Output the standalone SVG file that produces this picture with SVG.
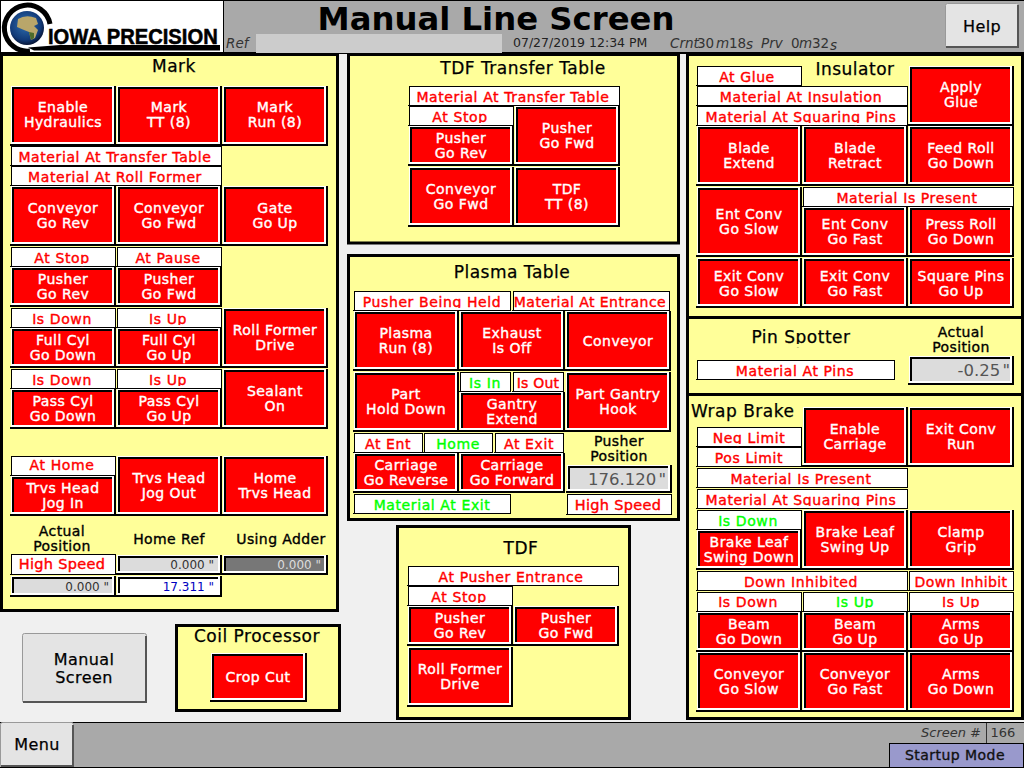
<svg xmlns="http://www.w3.org/2000/svg" width="1024" height="768" viewBox="0 0 1024 768">
<style>
text{font-family:"DejaVu Sans","Liberation Sans",sans-serif}
.k{fill:#000}.w{fill:#fff}
.panel{fill:#ffff99;stroke:#000;stroke-width:3}
.t{font-size:17px;fill:#000;text-anchor:middle;stroke:#000;stroke-width:.25;letter-spacing:.5px}
.h{font-size:14px;fill:#000;text-anchor:middle;stroke:#000;stroke-width:.35;letter-spacing:.4px}
.btn{fill:#f00}
.btn text{font-size:14px;fill:#fff;stroke:#fff;stroke-width:.4;text-anchor:middle;letter-spacing:.45px}
.lab text{font-size:14px;fill:#f00;stroke:#f00;stroke-width:.4;text-anchor:middle;letter-spacing:.6px}
.lab text.g{fill:#0f0;stroke:#0f0}
.lab text.big{font-size:14.5px;letter-spacing:.3px}
.dsp{fill:#dcdcdc}
.dsp text{font-size:12px;fill:#333;text-anchor:end}
.dsp text.lg{font-size:16.500px;fill:#555;word-spacing:-3px}
.hmi{fill:#e4e4e4;stroke:#999;stroke-width:1}
.sh{fill:none;stroke:#555;stroke-width:2}
.hb{font-size:16px;fill:#000;text-anchor:middle;stroke:#000;stroke-width:.25;letter-spacing:.4px}
.st{font-size:13.500px;fill:#333}
.it{font-style:italic}
</style>
<defs>
<radialGradient id="globe" cx="0.45" cy="0.4" r="0.65"><stop offset="0" stop-color="#2f6fb0"/><stop offset="0.7" stop-color="#123a78"/><stop offset="1" stop-color="#050a20"/></radialGradient>
<g id="b60"><rect class="k" y="58" width="106" height="2"/><rect class="k" x="104" width="2" height="60"/><rect class="w" x="1" width="103" height="58"/><rect class="k" x="2" y="1" width="100" height="55"/><rect x="4" y="3" width="98" height="53"/></g>
<g id="b40"><rect class="k" y="38" width="106" height="2"/><rect class="k" x="104" width="2" height="40"/><rect class="w" x="1" width="103" height="38"/><rect class="k" x="2" y="1" width="100" height="35"/><rect x="4" y="3" width="98" height="33"/></g>
<g id="b50"><rect class="k" y="48" width="106" height="2"/><rect class="k" x="104" width="2" height="50"/><rect class="w" x="1" width="103" height="48"/><rect class="k" x="2" y="1" width="100" height="45"/><rect x="4" y="3" width="98" height="43"/></g>
<g id="b70"><rect class="k" y="68" width="106" height="2"/><rect class="k" x="104" width="2" height="70"/><rect class="w" x="1" width="103" height="68"/><rect class="k" x="2" y="1" width="100" height="65"/><rect x="4" y="3" width="98" height="63"/></g>
<g id="b97"><rect class="k" y="47" width="97" height="2"/><rect class="k" x="95" width="2" height="49"/><rect class="w" x="1" width="94" height="47"/><rect class="k" x="2" y="1" width="91" height="44"/><rect x="4" y="3" width="89" height="42"/></g>
<g id="b20"><rect class="k" y="18" width="106" height="2"/><rect class="k" x="104" width="2" height="20"/><rect class="w" x="1" width="103" height="18"/><rect class="k" x="2" y="1" width="100" height="15"/><rect x="4" y="3" width="98" height="13"/></g>
<g id="b21"><rect class="k" y="19" width="106" height="2"/><rect class="k" x="104" width="2" height="21"/><rect class="w" x="1" width="103" height="19"/><rect class="k" x="2" y="1" width="100" height="16"/><rect x="4" y="3" width="98" height="14"/></g>
<g id="b28"><rect class="k" y="26" width="106" height="2"/><rect class="k" x="104" width="2" height="28"/><rect class="w" x="1" width="103" height="26"/><rect class="k" x="2" y="1" width="100" height="23"/><rect x="4" y="3" width="98" height="21"/></g>
<g id="b29"><rect class="k" y="27" width="106" height="2"/><rect class="k" x="104" width="2" height="29"/><rect class="w" x="1" width="103" height="27"/><rect class="k" x="2" y="1" width="100" height="24"/><rect x="4" y="3" width="98" height="22"/></g>
<g id="l106"><rect class="k" x="1" width="105" height="20"/><rect class="k" y="19" width="106" height="1"/><rect class="w" x="2" y="1" width="103" height="18"/></g>
<g id="l106t"><rect class="k" x="1" width="105" height="21"/><rect class="k" y="20" width="106" height="1"/><rect class="w" x="2" y="1" width="103" height="19"/></g>
<g id="l212"><rect class="k" x="1" width="211" height="20"/><rect class="k" y="19" width="212" height="1"/><rect class="w" x="2" y="1" width="209" height="18"/></g>
<g id="l199"><rect class="k" x="1" width="198" height="20"/><rect class="k" y="19" width="199" height="1"/><rect class="w" x="2" y="1" width="196" height="18"/></g>
<g id="l158"><rect class="k" x="1" width="157" height="20"/><rect class="k" y="19" width="158" height="1"/><rect class="w" x="2" y="1" width="155" height="18"/></g>
<g id="l70"><rect class="k" x="1" width="69" height="20"/><rect class="k" y="19" width="70" height="1"/><rect class="w" x="2" y="1" width="67" height="18"/></g>
<g id="l52"><rect class="k" x="1" width="51" height="20"/><rect class="k" y="19" width="52" height="1"/><rect class="w" x="2" y="1" width="49" height="18"/></g>
</defs>

<rect id="background" width="1024" height="768" fill="#f0f0f0"/>

<g id="header">
<rect width="1024" height="53" fill="#a9a9a9"/>
<rect y="0" width="1024" height="1" fill="#000"/>
<rect y="52" width="1024" height="2" fill="#000"/>
<rect x="256" y="34" width="246" height="19" fill="#cccccc"/>
<text x="226" y="48" class="st it">Ref</text>
<text x="496" y="30" font-size="32.300" font-weight="700" text-anchor="middle" fill="#000">Manual Line Screen</text>
<text x="513" y="47" font-size="12.500" fill="#222">07/27/2019 12:34 PM</text>
<text class="st" y="48"><tspan class="it" x="670">Crnt</tspan><tspan x="697">30</tspan><tspan class="it" x="716">m</tspan><tspan x="729">18</tspan><tspan class="it" x="746" y="49">s</tspan><tspan class="it" x="761" y="48">Prv</tspan><tspan x="791">0</tspan><tspan class="it" x="799">m</tspan><tspan x="812">32</tspan><tspan class="it" x="830" y="50">s</tspan></text>
</g>

<g id="logo">
<rect x="0" y="0" width="224" height="53" fill="#000"/>
<rect x="1" y="1" width="222" height="51" fill="#fff"/>
<path d="M50 24A23 23 0 1 0 30 51" fill="none" stroke="#000" stroke-width="5"/>
<path d="M28 47.500L60 45H220V50.500H34Z" fill="#000"/>
<circle cx="27" cy="28" r="17" fill="url(#globe)"/>
<path d="M18 19Q26 14 36 18L38 24L34 26L38 30L35 38L31 40L29 32L24 30L17 27Z" fill="#b9a66a"/>
<path d="M29 32L34 33L34 38L31 40Z" fill="#4d6b2c"/>
<text transform="translate(48 44) scale(1 1.100)" font-size="20.200" font-weight="700" fill="#000" stroke="#000" stroke-width=".5" style="font-family:'Liberation Sans',sans-serif">IOWA PRECISION</text>
</g>

<g id="help-button"><rect class="hmi" x="945.500" y="3.500" width="73" height="44" rx="2"/><path class="sh" d="M946 47H1018V5"/><text class="hb" x="982" y="32">Help</text></g>

<g id="mark-panel"><rect class="panel" x="1.500" y="54.500" width="336" height="556"/><text class="t" x="174" y="72">Mark</text></g>
<g id="tdf-transfer-panel"><rect class="panel" x="348.500" y="54.500" width="330" height="188.500"/><text class="t" x="523" y="74">TDF Transfer Table</text></g>
<g id="plasma-panel"><rect class="panel" x="348.500" y="255.500" width="330" height="264"/><text class="t" x="512" y="278">Plasma Table</text></g>
<g id="tdf-panel"><rect class="panel" x="397.500" y="526.500" width="232" height="192"/><text class="t" x="521" y="554">TDF</text></g>
<g id="coil-panel"><rect class="panel" x="176.500" y="625.500" width="163" height="85"/><text class="t" x="257" y="642">Coil Processor</text></g>
<g id="insulator-panel"><rect class="panel" x="687.500" y="54.500" width="335" height="263"/><text class="t" x="855" y="75">Insulator</text></g>
<g id="pin-spotter-panel"><rect class="panel" x="687.500" y="317.500" width="335" height="77"/><text class="t" x="801" y="343">Pin Spotter</text><rect x="689" y="344" width="220" height="3" fill="#ffff99"/></g>
<g id="wrap-brake-panel"><rect class="panel" x="687.500" y="394.500" width="335" height="324"/><text class="t" x="691" y="417" style="text-anchor:start">Wrap Brake</text></g>

<g id="mark-enable-hydraulics" class="btn"><use href="#b60" x="10" y="86"/><text><tspan x="63" y="112">Enable</tspan><tspan x="63" y="127">Hydraulics</tspan></text></g>
<g id="mark-tt" class="btn"><use href="#b60" x="116" y="86"/><text><tspan x="169" y="112">Mark</tspan><tspan x="169" y="127">TT (8)</tspan></text></g>
<g id="mark-run" class="btn"><use href="#b60" x="222" y="86"/><text><tspan x="275" y="112">Mark</tspan><tspan x="275" y="127">Run (8)</tspan></text></g>
<g id="mark-lab-transfer" class="lab"><use href="#l212" x="10" y="146"/><text x="115" y="162">Material At Transfer Table</text></g>
<g id="mark-lab-rollformer" class="lab"><use href="#l212" x="10" y="166"/><text x="115" y="182">Material At Roll Former</text></g>
<g id="mark-conveyor-rev" class="btn"><use href="#b60" x="10" y="186"/><text><tspan x="63" y="213">Conveyor</tspan><tspan x="63" y="228">Go Rev</tspan></text></g>
<g id="mark-conveyor-fwd" class="btn"><use href="#b60" x="116" y="186"/><text><tspan x="169" y="213">Conveyor</tspan><tspan x="169" y="228">Go Fwd</tspan></text></g>
<g id="mark-gate" class="btn"><use href="#b60" x="222" y="186"/><text><tspan x="275" y="213">Gate</tspan><tspan x="275" y="228">Go Up</tspan></text></g>
<g id="mark-lab-atstop" class="lab"><use href="#l106" x="10" y="247"/><text x="62" y="263">At Stop</text><rect class="w" x="12" y="264" width="103" height="2"/></g>
<g id="mark-lab-atpause" class="lab"><use href="#l106" x="116" y="247"/><text x="168" y="263">At Pause</text></g>
<g id="mark-pusher-rev" class="btn"><use href="#b40" x="10" y="267"/><text><tspan x="63" y="284">Pusher</tspan><tspan x="63" y="299">Go Rev</tspan></text></g>
<g id="mark-pusher-fwd" class="btn"><use href="#b40" x="116" y="267"/><text><tspan x="169" y="284">Pusher</tspan><tspan x="169" y="299">Go Fwd</tspan></text></g>
<g id="mark-lab-full-down" class="lab"><use href="#l106" x="10" y="308"/><text x="62" y="324">Is Down</text></g>
<g id="mark-lab-full-up" class="lab"><use href="#l106" x="116" y="308"/><text x="168" y="324">Is Up</text><rect class="w" x="118" y="325" width="103" height="2"/></g>
<g id="mark-fullcyl-down" class="btn"><use href="#b40" x="10" y="328"/><text><tspan x="63" y="345">Full Cyl</tspan><tspan x="63" y="360">Go Down</tspan></text></g>
<g id="mark-fullcyl-up" class="btn"><use href="#b40" x="116" y="328"/><text><tspan x="169" y="345">Full Cyl</tspan><tspan x="169" y="360">Go Up</tspan></text></g>
<g id="mark-rollformer" class="btn"><use href="#b60" x="222" y="308"/><text><tspan x="275" y="335">Roll Former</tspan><tspan x="275" y="350">Drive</tspan></text></g>
<g id="mark-lab-pass-down" class="lab"><use href="#l106" x="10" y="369"/><text x="62" y="385">Is Down</text></g>
<g id="mark-lab-pass-up" class="lab"><use href="#l106" x="116" y="369"/><text x="168" y="385">Is Up</text><rect class="w" x="118" y="386" width="103" height="2"/></g>
<g id="mark-passcyl-down" class="btn"><use href="#b40" x="10" y="389"/><text><tspan x="63" y="406">Pass Cyl</tspan><tspan x="63" y="421">Go Down</tspan></text></g>
<g id="mark-passcyl-up" class="btn"><use href="#b40" x="116" y="389"/><text><tspan x="169" y="406">Pass Cyl</tspan><tspan x="169" y="421">Go Up</tspan></text></g>
<g id="mark-sealant" class="btn"><use href="#b60" x="222" y="369"/><text><tspan x="275" y="396">Sealant</tspan><tspan x="275" y="411">On</tspan></text></g>
<g id="mark-lab-athome" class="lab"><use href="#l106" x="10" y="456"/><text x="62" y="470">At Home</text></g>
<g id="mark-trvs-in" class="btn"><use href="#b40" x="10" y="476"/><text><tspan x="63" y="493">Trvs Head</tspan><tspan x="63" y="508">Jog In</tspan></text></g>
<g id="mark-trvs-out" class="btn"><use href="#b60" x="116" y="456"/><text><tspan x="169" y="483">Trvs Head</tspan><tspan x="169" y="498">Jog Out</tspan></text></g>
<g id="mark-home-trvs" class="btn"><use href="#b60" x="222" y="456"/><text><tspan x="275" y="483">Home</tspan><tspan x="275" y="498">Trvs Head</tspan></text></g>
<g id="mark-captions"><text class="h"><tspan x="62" y="536">Actual</tspan><tspan x="62" y="551">Position</tspan></text><text class="h" x="169" y="544">Home Ref</text><text class="h" x="281" y="544">Using Adder</text></g>
<g id="mark-lab-highspeed" class="lab"><use href="#l106t" x="10" y="554"/><text class="big" x="62" y="569">High Speed</text></g>
<g id="mark-home-ref" class="dsp"><use href="#b20" x="116" y="555"/><text x="214" y="569">0.000 "</text></g>
<g id="mark-using-adder" class="dsp" style="fill:#777"><use href="#b20" x="222" y="555"/><text x="321" y="569" style="fill:#ddd">0.000 "</text></g>
<g id="mark-actual" class="dsp"><use href="#b21" x="10" y="576"/><text x="109" y="591">0.000 "</text></g>
<g id="mark-setpoint" class="dsp" style="fill:#fff"><use href="#b21" x="116" y="576"/><text x="214" y="591" style="fill:#0000c0">17.311 "</text></g>

<g id="ttable-lab-material" class="lab"><use href="#l212" x="408" y="86"/><text x="513" y="102">Material At Transfer Table</text></g>
<g id="ttable-lab-atstop" class="lab"><use href="#l106" x="408" y="106"/><text x="460" y="122">At Stop</text><rect class="w" x="410" y="123" width="103" height="2"/></g>
<g id="ttable-pusher-rev" class="btn"><use href="#b40" x="408" y="126"/><text><tspan x="461" y="143">Pusher</tspan><tspan x="461" y="158">Go Rev</tspan></text></g>
<g id="ttable-pusher-fwd" class="btn"><use href="#b60" x="514" y="106"/><text><tspan x="567" y="133">Pusher</tspan><tspan x="567" y="148">Go Fwd</tspan></text></g>
<g id="ttable-conveyor" class="btn"><use href="#b60" x="408" y="167"/><text><tspan x="461" y="194">Conveyor</tspan><tspan x="461" y="209">Go Fwd</tspan></text></g>
<g id="ttable-tt" class="btn"><use href="#b60" x="514" y="167"/><text><tspan x="567" y="194">TDF</tspan><tspan x="567" y="209">TT (8)</tspan></text></g>

<g id="plasma-lab-held" class="lab"><use href="#l158" x="353" y="291"/><text x="432" y="307">Pusher Being Held</text><rect class="w" x="355" y="308" width="155" height="2"/></g>
<g id="plasma-lab-entrance" class="lab"><use href="#l158" x="512" y="291"/><text x="590" y="307" style="letter-spacing:.45px">Material At Entrance</text></g>
<g id="plasma-run" class="btn"><use href="#b60" x="353" y="311"/><text><tspan x="406" y="338">Plasma</tspan><tspan x="406" y="353">Run (8)</tspan></text></g>
<g id="plasma-exhaust" class="btn"><use href="#b60" x="459" y="311"/><text><tspan x="512" y="338">Exhaust</tspan><tspan x="512" y="353">Is Off</tspan></text></g>
<g id="plasma-conveyor" class="btn"><use href="#b60" x="565" y="311"/><text x="618" y="346">Conveyor</text></g>
<g id="plasma-hold" class="btn"><use href="#b60" x="353" y="372"/><text><tspan x="406" y="399">Part</tspan><tspan x="406" y="414">Hold Down</tspan></text></g>
<g id="plasma-lab-isin" class="lab"><use href="#l52" x="459" y="372"/><text class="g" x="485" y="388">Is In</text></g>
<g id="plasma-lab-isout" class="lab"><use href="#l52" x="512" y="372"/><text x="538" y="388" style="letter-spacing:.2px">Is Out</text></g>
<g id="plasma-gantry-extend" class="btn"><use href="#b40" x="459" y="392"/><text><tspan x="512" y="409">Gantry</tspan><tspan x="512" y="424">Extend</tspan></text></g>
<g id="plasma-gantry-hook" class="btn"><use href="#b60" x="565" y="372"/><text><tspan x="618" y="399">Part Gantry</tspan><tspan x="618" y="414">Hook</tspan></text></g>
<g id="plasma-lab-atent" class="lab"><use href="#l70" x="353" y="433"/><text x="388" y="449">At Ent</text></g>
<g id="plasma-lab-home" class="lab"><use href="#l70" x="423" y="433"/><text class="g" x="458" y="449">Home</text></g>
<g id="plasma-lab-atexit" class="lab"><use href="#l70" x="494" y="433"/><text x="529" y="449">At Exit</text></g>
<g id="plasma-caption"><text class="h"><tspan x="619" y="446">Pusher</tspan><tspan x="619" y="461">Position</tspan></text></g>
<g id="plasma-reverse" class="btn"><use href="#b40" x="353" y="453"/><text><tspan x="406" y="470">Carriage</tspan><tspan x="406" y="485">Go Reverse</tspan></text></g>
<g id="plasma-forward" class="btn"><use href="#b40" x="459" y="453"/><text><tspan x="512" y="470">Carriage</tspan><tspan x="512" y="485">Go Forward</tspan></text></g>
<g id="plasma-position" class="dsp"><use href="#b28" x="566" y="465"/><text class="lg" x="666" y="485">176.120 "</text></g>
<g id="plasma-lab-exit" class="lab"><use href="#l158" x="353" y="494"/><text class="g" x="432" y="510">Material At Exit</text></g>
<g id="plasma-lab-highspeed" class="lab"><use href="#l106t" x="566" y="494"/><text class="big" x="618" y="510">High Speed</text></g>

<g id="tdf-lab-entrance" class="lab"><use href="#l212" x="407" y="566"/><text x="511" y="582">At Pusher Entrance</text></g>
<g id="tdf-lab-atstop" class="lab"><use href="#l106" x="407" y="586"/><text x="459" y="602">At Stop</text><rect class="w" x="409" y="603" width="103" height="2"/></g>
<g id="tdf-pusher-rev" class="btn"><use href="#b40" x="407" y="606"/><text><tspan x="460" y="623">Pusher</tspan><tspan x="460" y="638">Go Rev</tspan></text></g>
<g id="tdf-pusher-fwd" class="btn"><use href="#b40" x="513" y="606"/><text><tspan x="566" y="623">Pusher</tspan><tspan x="566" y="638">Go Fwd</tspan></text></g>
<g id="tdf-rollformer" class="btn"><use href="#b60" x="407" y="647"/><text><tspan x="460" y="674">Roll Former</tspan><tspan x="460" y="689">Drive</tspan></text></g>
<g id="coil-crop-cut" class="btn"><use href="#b97" x="210" y="653"/><text x="258" y="682">Crop Cut</text></g>

<g id="ins-lab-glue" class="lab"><use href="#l106" x="696" y="66"/><text x="747" y="82">At Glue</text></g>
<g id="ins-lab-insulation" class="lab"><use href="#l212" x="696" y="86"/><text x="801" y="102">Material At Insulation</text></g>
<g id="ins-lab-squaring" class="lab"><use href="#l212" x="696" y="106"/><text x="801" y="122">Material At Squaring Pins</text><rect class="w" x="698" y="123" width="209" height="2"/></g>
<g id="ins-apply-glue" class="btn"><use href="#b60" x="908" y="66"/><text><tspan x="961" y="92">Apply</tspan><tspan x="961" y="107">Glue</tspan></text></g>
<g id="ins-blade-extend" class="btn"><use href="#b60" x="696" y="126"/><text><tspan x="749" y="153">Blade</tspan><tspan x="749" y="168">Extend</tspan></text></g>
<g id="ins-blade-retract" class="btn"><use href="#b60" x="802" y="126"/><text><tspan x="855" y="153">Blade</tspan><tspan x="855" y="168">Retract</tspan></text></g>
<g id="ins-feed-roll" class="btn"><use href="#b60" x="908" y="126"/><text><tspan x="961" y="153">Feed Roll</tspan><tspan x="961" y="168">Go Down</tspan></text></g>
<g id="ins-ent-slow" class="btn"><use href="#b70" x="696" y="187"/><text><tspan x="749" y="219">Ent Conv</tspan><tspan x="749" y="234">Go Slow</tspan></text></g>
<g id="ins-lab-present" class="lab"><use href="#l212" x="802" y="187"/><text x="907" y="203">Material Is Present</text></g>
<g id="ins-ent-fast" class="btn"><use href="#b50" x="802" y="207"/><text><tspan x="855" y="229">Ent Conv</tspan><tspan x="855" y="244">Go Fast</tspan></text></g>
<g id="ins-press-roll" class="btn"><use href="#b50" x="908" y="207"/><text><tspan x="961" y="229">Press Roll</tspan><tspan x="961" y="244">Go Down</tspan></text></g>
<g id="ins-exit-slow" class="btn"><use href="#b50" x="696" y="258"/><text><tspan x="749" y="281">Exit Conv</tspan><tspan x="749" y="296">Go Slow</tspan></text></g>
<g id="ins-exit-fast" class="btn"><use href="#b50" x="802" y="258"/><text><tspan x="855" y="281">Exit Conv</tspan><tspan x="855" y="296">Go Fast</tspan></text></g>
<g id="ins-square-pins" class="btn"><use href="#b50" x="908" y="258"/><text><tspan x="961" y="281">Square Pins</tspan><tspan x="961" y="296">Go Up</tspan></text></g>

<g id="pin-caption"><text class="h"><tspan x="961" y="337">Actual</tspan><tspan x="961" y="352">Position</tspan></text></g>
<g id="pin-lab-material" class="lab"><use href="#l199" x="696" y="360"/><text x="795" y="376">Material At Pins</text></g>
<g id="pin-position" class="dsp"><use href="#b29" x="908" y="356"/><text class="lg" x="1010" y="376">-0.25 "</text></g>

<g id="wb-lab-neg" class="lab"><use href="#l106" x="696" y="427"/><text x="749" y="443">Neg Limit</text><rect class="w" x="698" y="444" width="103" height="2"/></g>
<g id="wb-lab-pos" class="lab"><use href="#l106" x="696" y="447"/><text x="749" y="463">Pos Limit</text></g>
<g id="wb-enable-carriage" class="btn"><use href="#b60" x="802" y="407"/><text><tspan x="855" y="434">Enable</tspan><tspan x="855" y="449">Carriage</tspan></text></g>
<g id="wb-exit-conv" class="btn"><use href="#b60" x="908" y="407"/><text><tspan x="961" y="434">Exit Conv</tspan><tspan x="961" y="449">Run</tspan></text></g>
<g id="wb-lab-present" class="lab"><use href="#l212" x="696" y="468"/><text x="801" y="484">Material Is Present</text></g>
<g id="wb-lab-squaring" class="lab"><use href="#l212" x="696" y="489"/><text x="801" y="505">Material At Squaring Pins</text><rect class="w" x="698" y="506" width="209" height="2"/></g>
<g id="wb-lab-isdown" class="lab"><use href="#l106" x="696" y="510"/><text class="g" x="748" y="526">Is Down</text></g>
<g id="wb-swing-down" class="btn"><use href="#b40" x="696" y="530"/><text><tspan x="749" y="547">Brake Leaf</tspan><tspan x="749" y="562">Swing Down</tspan></text></g>
<g id="wb-swing-up" class="btn"><use href="#b60" x="802" y="510"/><text><tspan x="855" y="537">Brake Leaf</tspan><tspan x="855" y="552">Swing Up</tspan></text></g>
<g id="wb-clamp" class="btn"><use href="#b60" x="908" y="510"/><text><tspan x="961" y="537">Clamp</tspan><tspan x="961" y="552">Grip</tspan></text></g>
<g id="wb-lab-down-inhibited" class="lab"><use href="#l212" x="696" y="571"/><text x="801" y="587">Down Inhibited</text></g>
<g id="wb-lab-down-inhibit" class="lab"><use href="#l106" x="908" y="571"/><text x="961" y="587" style="letter-spacing:.4px">Down Inhibit</text></g>
<g id="wb-lab-beam-down" class="lab"><use href="#l106" x="696" y="592"/><text x="748" y="607">Is Down</text></g>
<g id="wb-lab-beam-up" class="lab"><use href="#l106" x="802" y="592"/><text class="g" x="855" y="607">Is Up</text><rect class="w" x="804" y="608" width="103" height="3"/></g>
<g id="wb-lab-arms-up" class="lab"><use href="#l106" x="908" y="592"/><text x="961" y="607">Is Up</text><rect class="w" x="910" y="608" width="103" height="3"/></g>
<g id="wb-beam-down" class="btn"><use href="#b40" x="696" y="612"/><text><tspan x="749" y="629">Beam</tspan><tspan x="749" y="644">Go Down</tspan></text></g>
<g id="wb-beam-up" class="btn"><use href="#b40" x="802" y="612"/><text><tspan x="855" y="629">Beam</tspan><tspan x="855" y="644">Go Up</tspan></text></g>
<g id="wb-arms-up" class="btn"><use href="#b40" x="908" y="612"/><text><tspan x="961" y="629">Arms</tspan><tspan x="961" y="644">Go Up</tspan></text></g>
<g id="wb-conveyor-slow" class="btn"><use href="#b60" x="696" y="652"/><text><tspan x="749" y="679">Conveyor</tspan><tspan x="749" y="694">Go Slow</tspan></text></g>
<g id="wb-conveyor-fast" class="btn"><use href="#b60" x="802" y="652"/><text><tspan x="855" y="679">Conveyor</tspan><tspan x="855" y="694">Go Fast</tspan></text></g>
<g id="wb-arms-down" class="btn"><use href="#b60" x="908" y="652"/><text><tspan x="961" y="679">Arms</tspan><tspan x="961" y="694">Go Down</tspan></text></g>

<g id="manual-screen-button"><rect class="hmi" x="22.500" y="633.500" width="124" height="69" rx="2"/><path class="sh" d="M23 702H146V636"/><text class="hb"><tspan x="84" y="665">Manual</tspan><tspan x="84" y="683">Screen</tspan></text></g>

<g id="footer">
<rect y="722" width="1024" height="46" fill="#a9a9a9"/>
<rect y="722" width="1024" height="1" fill="#000"/>
<rect y="767" width="1024" height="1" fill="#000"/>
<rect x="986" y="723" width="1" height="20" fill="#333"/>
<text class="st it" x="981" y="737" text-anchor="end" style="font-size:13px">Screen #</text>
<text class="st" x="1003" y="737" text-anchor="middle" style="font-size:13px">166</text>
</g>
<g id="startup-mode"><rect x="889.500" y="743.500" width="134" height="24" fill="#9999cc" stroke="#000"/><text x="955" y="760" font-size="14" fill="#111" stroke="#111" stroke-width=".35" text-anchor="middle" letter-spacing=".45">Startup Mode</text></g>
<g id="menu-button"><rect class="hmi" x="0.500" y="722.500" width="73" height="44" rx="2"/><path class="sh" d="M1 766H73V725"/><text class="hb" x="37" y="750">Menu</text></g>
</svg>
